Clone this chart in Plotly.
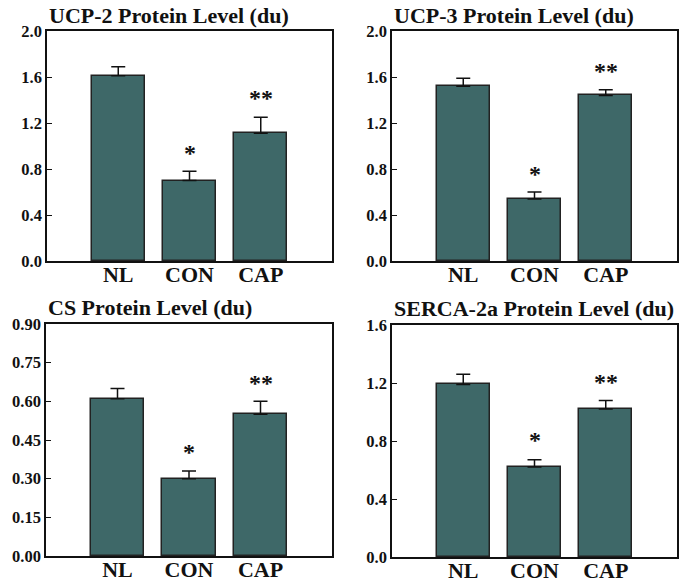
import plotly.graph_objects as go
from plotly.subplots import make_subplots

groups = ["NL", "CON", "CAP"]

titles = ["UCP-2 Protein Level (du)", "UCP-3 Protein Level (du)",
          "CS Protein Level (du)", "SERCA-2a Protein Level (du)"]

ucp2 = [1.61, 0.70, 1.11]
ucp2_err = [0.08, 0.08, 0.14]
ucp3 = [1.52, 0.54, 1.44]
ucp3_err = [0.07, 0.06, 0.05]
cs = [0.61, 0.30, 0.55]
cs_err = [0.04, 0.03, 0.05]
serca = [1.19, 0.62, 1.02]
serca_err = [0.07, 0.05, 0.06]

# significance marks and the height they sit at
marks = ["", "*", "**"]
ucp2_mark_y = [None, 0.94, 1.42]
ucp3_mark_y = [None, 0.76, 1.65]
cs_mark_y = [None, 0.405, 0.67]
serca_mark_y = [None, 0.81, 1.21]

yranges = [[0, 2.0], [0, 2.0], [0, 0.9], [0, 1.6]]
ydticks = [0.4, 0.4, 0.15, 0.4]
ytickfmt = [".1f", ".1f", ".2f", ".1f"]

panels = [
    (ucp2, ucp2_err, ucp2_mark_y),
    (ucp3, ucp3_err, ucp3_mark_y),
    (cs, cs_err, cs_mark_y),
    (serca, serca_err, serca_mark_y),
]

W, H = 690, 584
FONT = "Liberation Serif"
INK = "#111111"
BAR = "#3e6868"

fig = make_subplots(rows=2, cols=2)

# frame positions in pixels (left, right, top, bottom)
frames = [(47, 332, 31, 261), (392, 677, 31, 261),
          (46, 332, 324, 556), (392, 677, 325, 557)]
title_y = [15, 15, 307, 308]

for i, (vals, errs, my) in enumerate(panels):
    r, c = i // 2 + 1, i % 2 + 1
    sfx = "" if i == 0 else str(i + 1)
    fig.add_trace(go.Bar(
        x=[0, 1, 2], y=vals, width=0.75,
        marker=dict(color=BAR, line=dict(color="#222222", width=1.5)),
        error_y=dict(type="data", array=errs, arrayminus=[0, 0, 0],
                     color=INK, thickness=1.5, width=7),
        showlegend=False, hoverinfo="skip"), row=r, col=c)
    for k in range(3):
        if marks[k]:
            fig.add_annotation(x=k, y=my[k], text="<b>" + marks[k] + "</b>", showarrow=False,
                               font=dict(family=FONT, size=24, color=INK),
                               xref="x" + sfx, yref="y" + sfx, yanchor="middle")
    l, rr, t, b = frames[i]
    fig.layout["xaxis" + sfx].update(domain=[l / W, rr / W])
    fig.layout["yaxis" + sfx].update(domain=[1 - b / H, 1 - t / H])
    fig.add_annotation(x=l / W, y=1 - title_y[i] / H, xref="paper", yref="paper",
                       text="<b>" + titles[i] + "</b>", showarrow=False,
                       xanchor="left", yanchor="middle",
                       font=dict(family=FONT, size=22, color=INK))
    fig.update_xaxes(range=[-1, 3], tickvals=[0, 1, 2],
                     ticktext=["<b>" + g + "</b>" for g in groups],
                     showline=True, linecolor=INK, linewidth=1.5, mirror=True,
                     showgrid=False, zeroline=False, ticks="", ticklen=0,
                     ticklabelstandoff=-7, automargin=False,
                     tickfont=dict(family=FONT, size=22, color=INK),
                     row=r, col=c)
    fig.update_yaxes(range=yranges[i], dtick=ydticks[i], tick0=0, tickformat=ytickfmt[i],
                     showline=True, linecolor=INK, linewidth=1.5, mirror=True,
                     showgrid=False, zeroline=False, ticks="inside", ticklen=5,
                     tickwidth=1.2, tickcolor=INK, automargin=False,
                     tickfont=dict(family=FONT, size=16.5, color=INK, weight="bold"),
                     row=r, col=c)

fig.update_layout(width=W, height=H,
                  margin=dict(l=0, r=0, t=0, b=0, pad=0, autoexpand=False),
                  plot_bgcolor="white", paper_bgcolor="white", bargap=0)

fig.write_html("out.html", config={"displayModeBar": False},
               post_script="document.body.style.margin='0';")
